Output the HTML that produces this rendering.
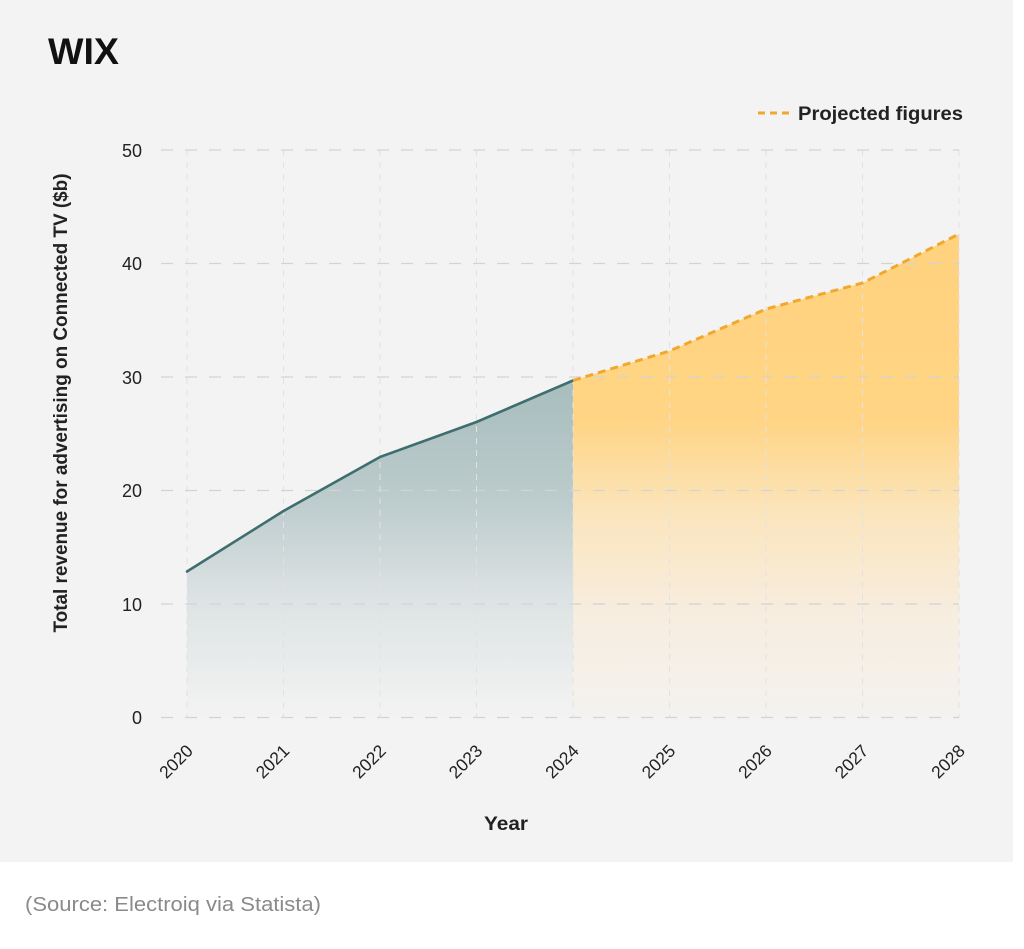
<!DOCTYPE html>
<html>
<head>
<meta charset="utf-8">
<style>
html,body{margin:0;padding:0;background:#ffffff;}
body{width:1024px;height:949px;overflow:hidden;}
svg{display:block;}
</style>
</head>
<body>
<svg width="1024" height="949" viewBox="0 0 1024 949" xmlns="http://www.w3.org/2000/svg">
  <defs>
    <linearGradient id="teal" gradientUnits="userSpaceOnUse" x1="0" y1="380" x2="0" y2="718">
      <stop offset="0" stop-color="#a8bdbd"/>
      <stop offset="0.35" stop-color="#bccbcc"/>
      <stop offset="0.65" stop-color="#dde3e4"/>
      <stop offset="1" stop-color="#f3f3f3"/>
    </linearGradient>
    <linearGradient id="yellow" gradientUnits="userSpaceOnUse" x1="0" y1="235" x2="0" y2="718">
      <stop offset="0" stop-color="#ffd27e"/>
      <stop offset="0.38" stop-color="#ffd484"/>
      <stop offset="0.58" stop-color="#fbe5bd"/>
      <stop offset="0.78" stop-color="#f7eddf"/>
      <stop offset="1" stop-color="#f4f2ef"/>
    </linearGradient>
  </defs>

  <!-- panel -->
  <rect x="0" y="0" width="1013" height="862" fill="#f3f3f3"/>

  <!-- title -->
  <text x="48" y="64" font-family="Liberation Sans, sans-serif" font-weight="bold" font-size="37" fill="#111111" textLength="71" lengthAdjust="spacingAndGlyphs">WIX</text>

  <!-- legend -->
  <line x1="758" y1="113" x2="791" y2="113" stroke="#f0a92e" stroke-width="3" stroke-dasharray="7,5"/>
  <text x="798" y="120" font-family="Liberation Sans, sans-serif" font-weight="bold" font-size="19" fill="#222222" textLength="165" lengthAdjust="spacingAndGlyphs">Projected figures</text>

  <!-- areas -->
  <path d="M187,571.5 L283.5,511 L380,457 L476.5,422 L573,380.5 L573,718 L187,718 Z" fill="url(#teal)"/>
  <path d="M573,380.5 L669.5,351 L766,309 L862.5,283 L959,234 L959,718 L573,718 Z" fill="url(#yellow)"/>

  <!-- vertical grid -->
  <g stroke="#e2e2e2" stroke-width="1" stroke-dasharray="6,6">
    <line x1="187" y1="150" x2="187" y2="718"/>
    <line x1="283.5" y1="150" x2="283.5" y2="718"/>
    <line x1="380" y1="150" x2="380" y2="718"/>
    <line x1="476.5" y1="150" x2="476.5" y2="718"/>
    <line x1="573" y1="150" x2="573" y2="718"/>
    <line x1="669.5" y1="150" x2="669.5" y2="718"/>
    <line x1="766" y1="150" x2="766" y2="718"/>
    <line x1="862.5" y1="150" x2="862.5" y2="718"/>
    <line x1="959" y1="150" x2="959" y2="718"/>
  </g>

  <!-- horizontal grid -->
  <g stroke="#d3d3d3" stroke-width="1.3" stroke-dasharray="12,12">
    <line x1="161" y1="150" x2="959" y2="150"/>
    <line x1="161" y1="263.5" x2="959" y2="263.5"/>
    <line x1="161" y1="377" x2="959" y2="377"/>
    <line x1="161" y1="490.5" x2="959" y2="490.5"/>
    <line x1="161" y1="604" x2="959" y2="604"/>
    <line x1="161" y1="717.5" x2="959" y2="717.5"/>
  </g>

  <!-- lines -->
  <polyline points="187,571.5 283.5,511 380,457 476.5,422 573,380.5" fill="none" stroke="#3e6e6e" stroke-width="2.6" stroke-linejoin="round" stroke-linecap="round"/>
  <polyline points="573,380.5 669.5,351 766,309 862.5,283 959,234" fill="none" stroke="#f0a92e" stroke-width="3" stroke-dasharray="8,5" stroke-linejoin="round"/>

  <!-- y tick labels -->
  <g font-family="Liberation Sans, sans-serif" font-size="18" fill="#222222" text-anchor="end">
    <text x="142" y="157">50</text>
    <text x="142" y="270">40</text>
    <text x="142" y="384">30</text>
    <text x="142" y="497">20</text>
    <text x="142" y="611">10</text>
    <text x="142" y="724">0</text>
  </g>

  <!-- y axis title -->
  <text transform="translate(67,403) rotate(-90)" text-anchor="middle" font-family="Liberation Sans, sans-serif" font-weight="bold" font-size="19" fill="#222222" textLength="459" lengthAdjust="spacingAndGlyphs">Total revenue for advertising on Connected TV ($b)</text>

  <!-- x tick labels -->
  <g font-family="Liberation Sans, sans-serif" font-size="17.5" fill="#222222" text-anchor="end">
    <text transform="translate(194,752) rotate(-45)">2020</text>
    <text transform="translate(290.5,752) rotate(-45)">2021</text>
    <text transform="translate(387,752) rotate(-45)">2022</text>
    <text transform="translate(483.5,752) rotate(-45)">2023</text>
    <text transform="translate(580,752) rotate(-45)">2024</text>
    <text transform="translate(676.5,752) rotate(-45)">2025</text>
    <text transform="translate(773,752) rotate(-45)">2026</text>
    <text transform="translate(869.5,752) rotate(-45)">2027</text>
    <text transform="translate(966,752) rotate(-45)">2028</text>
  </g>

  <!-- x axis title -->
  <text x="506" y="830" text-anchor="middle" font-family="Liberation Sans, sans-serif" font-weight="bold" font-size="19" fill="#222222" textLength="44" lengthAdjust="spacingAndGlyphs">Year</text>

  <!-- source -->
  <text x="25" y="911" font-family="Liberation Sans, sans-serif" font-size="20" fill="#8a8a8a" textLength="296" lengthAdjust="spacingAndGlyphs">(Source: Electroiq via Statista)</text>
</svg>
</body>
</html>
